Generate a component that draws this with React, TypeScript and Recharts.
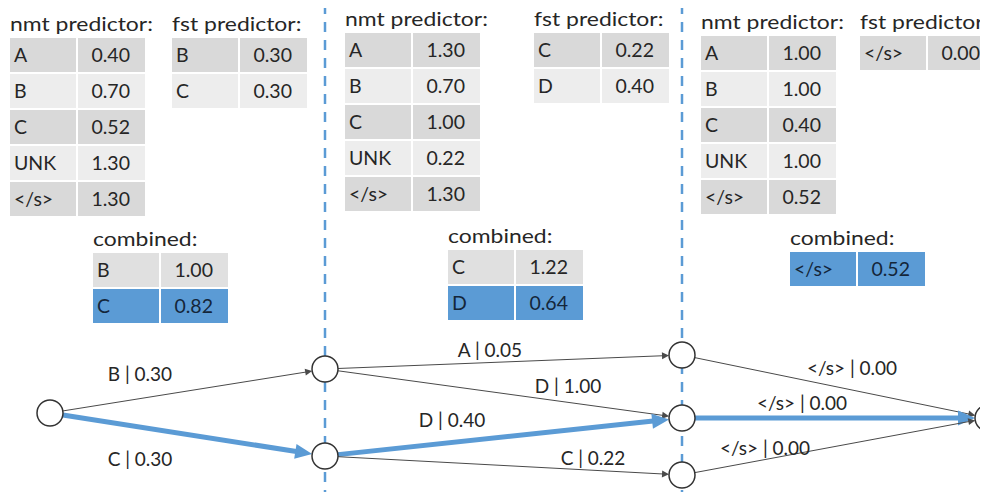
import { ScatterChart, Scatter, XAxis, YAxis, ReferenceLine } from "recharts"

const FONT = "Lato, 'Open Sans', sans-serif"
const BLUE = "#5b9bd5"
const TEXT = "#262626"
const R = 13

// predictor tables per decoding step
const nmt1Tokens = ["A", "B", "C", "UNK", "</s>"]
const nmt1Scores = [0.4, 0.7, 0.52, 1.3, 1.3]
const fst1Tokens = ["B", "C"]
const fst1Scores = [0.3, 0.3]
const comb1Tokens = ["B", "C"]
const comb1Scores = [1.0, 0.82]

const nmt2Tokens = ["A", "B", "C", "UNK", "</s>"]
const nmt2Scores = [1.3, 0.7, 1.0, 0.22, 1.3]
const fst2Tokens = ["C", "D"]
const fst2Scores = [0.22, 0.4]
const comb2Tokens = ["C", "D"]
const comb2Scores = [1.22, 0.64]

const nmt3Tokens = ["A", "B", "C", "UNK", "</s>"]
const nmt3Scores = [1.0, 1.0, 0.4, 1.0, 0.52]
const fst3Tokens = ["</s>"]
const fst3Scores = [0.0]
const comb3Tokens = ["</s>"]
const comb3Scores = [0.52]

const chosenTokens = ["C", "D", "</s>"]

// search graph
const nodes = [
  { id: 0, x: 50, y: 413 },
  { id: 1, x: 325, y: 369 },
  { id: 2, x: 325, y: 456 },
  { id: 3, x: 682, y: 355 },
  { id: 4, x: 682, y: 418 },
  { id: 5, x: 682, y: 475 },
  { id: 6, x: 988, y: 418 },
]
const edgeFrom = [0, 0, 1, 1, 2, 2, 3, 4, 5]
const edgeTo = [1, 2, 3, 4, 4, 5, 6, 6, 6]
const edgeTokens = ["B", "C", "A", "D", "D", "C", "</s>", "</s>", "</s>"]
const edgeScores = [0.3, 0.3, 0.05, 1.0, 0.4, 0.22, 0.0, 0.0, 0.0]
const bestEdges = [1, 4, 7]
const stepBoundaries = [325, 682]

// layout only
const labelAt = [
  [140, 373], [140, 458], [490, 349], [568, 385], [452, 419],
  [593, 457], [852, 367], [802, 402], [765, 447],
]
const tableLayout = [
  { x: 10, y: 38, title: "nmt predictor:", tokens: nmt1Tokens, scores: nmt1Scores, step: 0, combined: false },
  { x: 172, y: 38, title: "fst predictor:", tokens: fst1Tokens, scores: fst1Scores, step: 0, combined: false },
  { x: 93, y: 253, title: "combined:", tokens: comb1Tokens, scores: comb1Scores, step: 0, combined: true },
  { x: 345, y: 33, title: "nmt predictor:", tokens: nmt2Tokens, scores: nmt2Scores, step: 1, combined: false },
  { x: 534, y: 33, title: "fst predictor:", tokens: fst2Tokens, scores: fst2Scores, step: 1, combined: false },
  { x: 448, y: 250, title: "combined:", tokens: comb2Tokens, scores: comb2Scores, step: 1, combined: true },
  { x: 701, y: 36, title: "nmt predictor:", tokens: nmt3Tokens, scores: nmt3Scores, step: 2, combined: false },
  { x: 860, y: 36, title: "fst predictor:", tokens: fst3Tokens, scores: fst3Scores, step: 2, combined: false },
  { x: 790, y: 252, title: "combined:", tokens: comb3Tokens, scores: comb3Scores, step: 2, combined: true },
]

const edgeLabels = edgeTokens.map((t, i) => ({
  x: labelAt[i][0],
  y: labelAt[i][1],
  text: `${t} | ${edgeScores[i].toFixed(2)}`,
}))

function makeEdgeShape(best: boolean) {
  return (props: any) => {
    const { x1, y1, x2, y2 } = props
    const dx = x2 - x1
    const dy = y2 - y1
    const len = Math.hypot(dx, dy)
    const ux = dx / len
    const uy = dy / len
    const sx = x1 + ux * R
    const sy = y1 + uy * R
    const tx = x2 - ux * R
    const ty = y2 - uy * R
    const hl = best ? 17 : 7
    const hw = best ? 7.5 : 3.5
    const bx = tx - ux * hl
    const by = ty - uy * hl
    const color = best ? BLUE : "#4a4a4a"
    const pts = `${tx},${ty} ${bx - uy * hw},${by + ux * hw} ${bx + uy * hw},${by - ux * hw}`
    return (
      <g>
        <line x1={sx} y1={sy} x2={bx + ux} y2={by + uy} stroke={color} strokeWidth={best ? 5 : 1} />
        <polygon points={pts} fill={color} />
      </g>
    )
  }
}

const NodeShape = (props: any) => (
  <circle cx={props.cx} cy={props.cy} r={R} fill="#fff" stroke="#333" strokeWidth={1.5} />
)

const LabelShape = (props: any) => (
  <text
    x={props.cx}
    y={props.cy}
    textAnchor="middle"
    dominantBaseline="central"
    fontFamily={FONT}
    fontSize={19}
    fill={TEXT}
  >
    {props.payload.text}
  </text>
)

function Table({ t }: { t: (typeof tableLayout)[number] }) {
  const rowH = 36
  const leftW = 67
  const width = 135
  return (
    <g fontFamily={FONT} fill={TEXT}>
      <text transform={`translate(${t.x},${t.y - 7}) scale(1.24,1)`} fontSize={18.5}>
        {t.title}
      </text>
      {t.tokens.map((tok, i) => {
        const y = t.y + i * rowH
        const picked = t.combined && tok === chosenTokens[t.step]
        const bg = picked ? BLUE : t.combined ? "#e0e0e0" : i % 2 === 0 ? "#d9d9d9" : "#ededed"
        const fg = picked ? "#14263a" : TEXT
        return (
          <g key={i} fontSize={19.5}>
            <rect x={t.x} y={y} width={leftW - 1} height={rowH - 2} fill={bg} />
            <rect x={t.x + leftW + 1} y={y} width={width - leftW - 1} height={rowH - 2} fill={bg} />
            <text x={t.x + 4} y={y + rowH / 2 + 6} fill={fg}>{tok}</text>
            <text x={t.x + width - 15} y={y + rowH / 2 + 6} textAnchor="end" fill={fg}>
              {t.scores[i].toFixed(2)}
            </text>
          </g>
        )
      })}
    </g>
  )
}

export default function App() {
  return (
    <div style={{ position: "relative", width: 988, height: 500, margin: -8, overflow: "hidden", background: "#fff" }}>
      <svg width={988} height={500} style={{ position: "absolute", left: 0, top: 0 }}>
        {tableLayout.map((t, i) => (
          <Table key={i} t={t} />
        ))}
      </svg>
      <div style={{ position: "absolute", left: 0, top: 0 }}>
        <ScatterChart width={988} height={500} margin={{ top: 0, right: 0, bottom: 0, left: 0 }}>
          <XAxis type="number" dataKey="x" domain={[0, 988]} hide />
          <YAxis type="number" dataKey="y" domain={[0, 500]} reversed hide />
          {stepBoundaries.map((x) => (
            <ReferenceLine key={x} x={x} stroke={BLUE} strokeWidth={2.5} strokeDasharray="10 8" />
          ))}
          {edgeFrom.map((f, i) => (
            <ReferenceLine
              key={`e${i}`}
              segment={[
                { x: nodes[f].x, y: nodes[f].y },
                { x: nodes[edgeTo[i]].x, y: nodes[edgeTo[i]].y },
              ]}
              shape={makeEdgeShape(bestEdges.includes(i))}
            />
          ))}
          <Scatter data={nodes} shape={NodeShape} isAnimationActive={false} />
          <Scatter data={edgeLabels} shape={LabelShape} isAnimationActive={false} />
        </ScatterChart>
      </div>
    </div>
  )
}
